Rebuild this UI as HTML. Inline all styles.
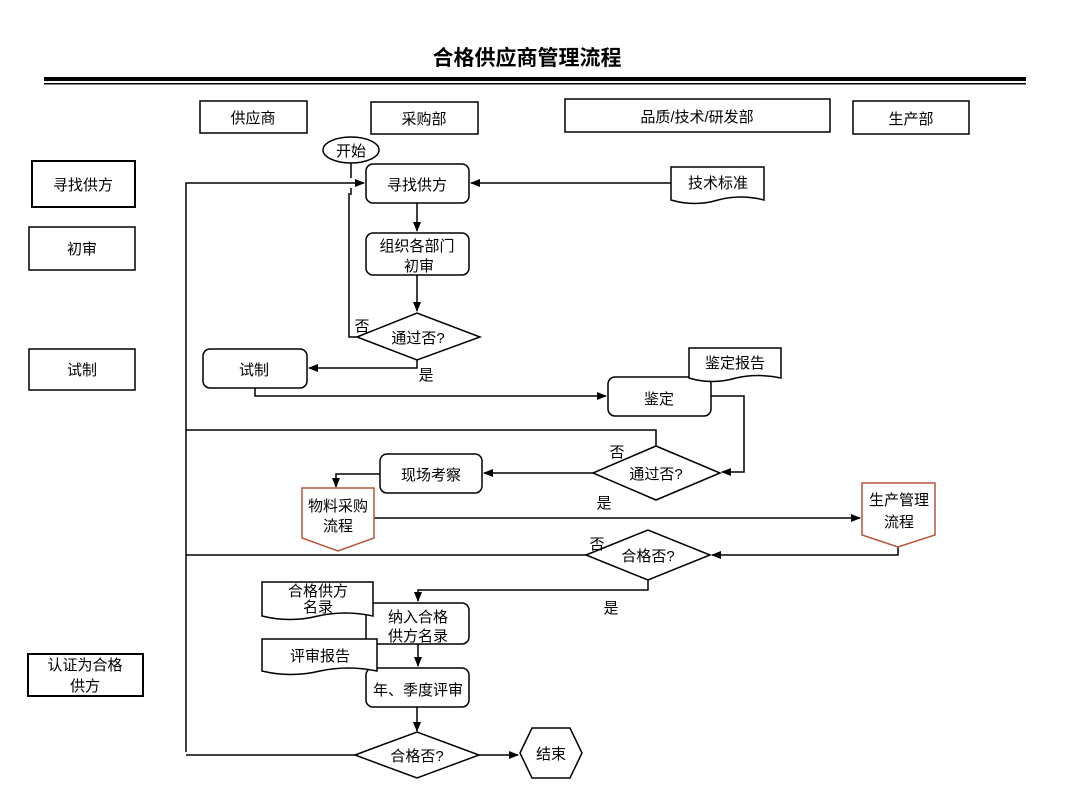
<!DOCTYPE html>
<html><head><meta charset="utf-8"><style>
html,body{margin:0;padding:0;background:#fff;}
svg{display:block;font-family:"Liberation Sans","Noto Sans CJK SC",sans-serif;}
text{font-size:15px;fill:#000;}
</style></head><body>
<svg width="1080" height="810" viewBox="0 0 1080 810" xmlns="http://www.w3.org/2000/svg">
<defs><marker id="a" markerWidth="10" markerHeight="10" refX="9" refY="5" orient="auto" markerUnits="userSpaceOnUse"><path d="M0,1 L10,5 L0,9 Z" fill="#000"/></marker></defs>
<text x="527" y="65" text-anchor="middle" style="font-size:21px;font-weight:bold">合格供应商管理流程</text>
<rect x="44" y="77" width="982" height="4" fill="#000"/>
<rect x="44" y="83" width="982" height="1.5" fill="#000"/>
<g fill="#fff" stroke="#000" stroke-width="1.5">
<rect x="200" y="101" width="107" height="32"/><rect x="371" y="102" width="107" height="32"/>
<rect x="565" y="99" width="265" height="33"/><rect x="853" y="101" width="116" height="33"/>
<rect x="32" y="161" width="103" height="46" stroke-width="2"/><rect x="29" y="227" width="106" height="43"/>
<rect x="29" y="349" width="106" height="41"/><rect x="28" y="654" width="115" height="42" stroke-width="2"/>
</g>
<g text-anchor="middle">
<text x="253" y="123">供应商</text><text x="424" y="124">采购部</text><text x="697" y="122">品质/技术/研发部</text><text x="911" y="124">生产部</text>
<text x="83" y="190">寻找供方</text><text x="82" y="254">初审</text><text x="82" y="375">试制</text>
<text x="85" y="670">认证为合格</text><text x="85" y="691">供方</text>
</g>
<g fill="none" stroke="#000" stroke-width="1.5">
<path d="M186,752 V183 H364" marker-end="url(#a)"/>
<path d="M351,163 V178 M351,188 V195"/>
<path d="M357,337 H349 V193"/>
<path d="M671,183 H471" marker-end="url(#a)"/>
<path d="M417,203 V231" marker-end="url(#a)"/>
<path d="M417,275 V311" marker-end="url(#a)"/>
<path d="M417,360 V368 H309" marker-end="url(#a)"/>
<path d="M255,388 V396 H606" marker-end="url(#a)"/>
<path d="M711,396 H744 V472 H722" marker-end="url(#a)"/>
<path d="M656,446 V430 H186"/>
<path d="M593,473 H484" marker-end="url(#a)"/>
<path d="M380,474 H336 V487" marker-end="url(#a)"/>
<path d="M374,518 H860" marker-end="url(#a)"/>
<path d="M898,547 V555 H712" marker-end="url(#a)"/>
<path d="M586,555 H186"/>
<path d="M648,580 V590 H418 V601" marker-end="url(#a)"/>
<path d="M418,644 V666" marker-end="url(#a)"/>
<path d="M417,707 V731" marker-end="url(#a)"/>
<path d="M355,755 H186"/>
<path d="M479,755 H518" marker-end="url(#a)"/>
</g>
<g fill="#fff" stroke="#000" stroke-width="1.5">
<ellipse cx="351" cy="150" rx="28" ry="13"/>
<rect x="366" y="164" width="103" height="39" rx="7"/>
<rect x="366" y="233" width="103" height="42" rx="7"/>
<path d="M357,337 L417,313 L480,337 L417,360 Z"/>
<rect x="203" y="349" width="104" height="39" rx="7"/>
<rect x="608" y="377" width="103" height="39" rx="7"/>
<path d="M593,473 L656,446 L720,473 L656,500 Z"/>
<rect x="380" y="454" width="102" height="39" rx="7"/>
<path d="M586,555 L648,530 L710,555 L648,580 Z"/>
<rect x="366" y="603" width="103" height="41" rx="7"/>
<rect x="366" y="668" width="103" height="39" rx="7"/>
<path d="M355,755 L417,732 L479,755 L417,778 Z"/>
<path d="M520,753 L532,728 L570,728 L582,753 L570,778 L532,778 Z"/>
<path d="M671,167 H764 V200 Q740,194 718,200 Q695,207 671,200 Z"/>
<path d="M689,348 H781 V378 Q758,373 736,378 Q712,385 689,378 Z"/>
<path d="M262,582 H373 V616 Q345,610 318,616 Q290,623 262,616 Z"/>
<path d="M262,639 H377 V671 Q348,665 320,671 Q291,678 262,671 Z"/>
</g>
<g fill="#fff" stroke="#b5553a" stroke-width="1.5">
<path d="M302,488 H374 V538 L338,551 L302,538 Z"/>
<path d="M862,483 H935 V535 L898,547 L862,535 Z"/>
</g>
<g text-anchor="middle">
<text x="351" y="156">开始</text>
<text x="417" y="190">寻找供方</text>
<text x="417" y="251">组织各部门</text><text x="419" y="271">初审</text>
<text x="418" y="343">通过否?</text>
<text x="254" y="375">试制</text>
<text x="659" y="404">鉴定</text>
<text x="656" y="479">通过否?</text>
<text x="431" y="480">现场考察</text>
<text x="338" y="511">物料采购</text><text x="338" y="531">流程</text>
<text x="899" y="505">生产管理</text><text x="899" y="527">流程</text>
<text x="648" y="561">合格否?</text>
<text x="418" y="622">纳入合格</text><text x="418" y="641">供方名录</text>
<text x="418" y="695">年、季度评审</text>
<text x="417" y="761">合格否?</text>
<text x="551" y="759">结束</text>
<text x="718" y="188">技术标准</text>
<text x="735" y="368">鉴定报告</text>
<text x="318" y="596">合格供方</text><text x="318" y="612">名录</text>
<text x="320" y="661">评审报告</text>
<text x="362" y="331">否</text><text x="426" y="380">是</text>
<text x="617" y="457">否</text><text x="604" y="508">是</text>
<text x="597" y="549">否</text><text x="611" y="613">是</text>
</g>
</svg>
</body></html>
